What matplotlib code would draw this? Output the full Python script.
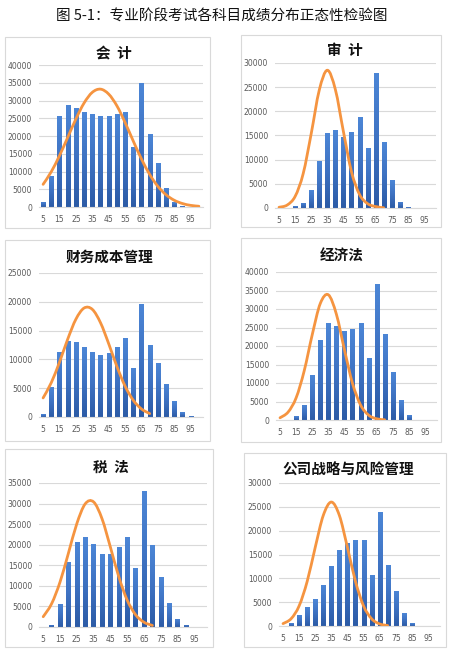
import numpy as np
import matplotlib
matplotlib.use("Agg")
import matplotlib.pyplot as plt
from matplotlib.path import Path
from matplotlib.patches import PathPatch, Rectangle
from matplotlib.colors import LinearSegmentedColormap

plt.rcParams["font.family"] = ["Noto Sans CJK SC", "DejaVu Sans"]

W, H = 452, 652

############### data ###############
categories = [5, 10, 15, 20, 25, 30, 35, 40, 45, 50,
              55, 60, 65, 70, 75, 80, 85, 90, 95, 100]
tick_labels = ["5", "15", "25", "35", "45", "55", "65", "75", "85", "95"]

titles = ["会  计", "审  计", "财务成本管理", "经济法", "税  法", "公司战略与风险管理"]

kuaiji_bars = [1500, 8800, 25700, 28800, 27900, 26700, 26100, 25700, 25700, 26100,
               26700, 16800, 34900, 20500, 12500, 5400, 1300, 200, 50, 0]
kuaiji_curve = [6380, 9950, 14470, 19600, 24800, 29300, 32300, 33200, 31800, 28500,
                23800, 18550, 13500, 9160, 5800, 3430, 1890, 970, 460, 210]

shenji_bars = [0, 50, 350, 1100, 3700, 9700, 15500, 16100, 14750, 15800,
               18800, 12500, 27900, 13650, 5750, 1300, 150, 0, 0, 0]
shenji_curve = [150, 600, 2400, 7100, 15400, 24400, 28500, 24500, 15800, 7500,
                2800, 900, 300, 50]

caiwu_bars = [450, 5200, 11300, 13200, 13000, 12200, 11350, 10800, 11150, 12150,
              13650, 8500, 19700, 12450, 9350, 5800, 2750, 800, 150, 0]
caiwu_curve = [3310, 5970, 9530, 13510, 16980, 18920, 18690, 16370, 12720, 8770,
               5350, 2900, 1390, 590]

jingji_bars = [0, 100, 1000, 4150, 12200, 21600, 26200, 25300, 24100, 24550,
               26200, 16700, 36750, 23300, 13000, 5300, 1250, 100, 0, 0]
jingji_curve = [600, 2130, 5990, 13260, 23040, 31480, 33840, 28600, 19000, 9930,
                4080, 1320, 335, 67]

shuifa_bars = [0, 500, 5600, 15900, 20700, 21850, 20150, 17700, 17800, 19350,
               21850, 14400, 33000, 19900, 12100, 5770, 2000, 500, 0, 0]
shuifa_curve = [2500, 5650, 10910, 17920, 25100, 29930, 30400, 26330, 19410, 12200,
                6530, 2980, 1160, 380]

gongsi_bars = [0, 550, 2250, 3900, 5650, 8600, 12500, 15850, 17500, 18000,
               17950, 10800, 23850, 12750, 7400, 2700, 600, 100, 50, 0]
gongsi_curve = [500, 1520, 4220, 9350, 16500, 23200, 26000, 23200, 16500, 9350,
                4220, 1520, 435, 100]

y_tops = [40000, 30000, 25000, 40000, 35000, 30000]

bars_all = [kuaiji_bars, shenji_bars, caiwu_bars, jingji_bars, shuifa_bars, gongsi_bars]
curves_all = [kuaiji_curve, shenji_curve, caiwu_curve, jingji_curve, shuifa_curve, gongsi_curve]

############### layout in pixels ###############
# chart area boxes (x0, y0, x1, y1), plot areas (left, top, right, bottom), title centre
boxes = [(5, 37, 210, 228), (241, 35, 441, 227),
         (5, 240, 210, 441), (241, 238, 441, 442),
         (5, 449, 213, 647), (244, 453, 446, 647)]
plots = [(39, 65, 203, 207), (275, 63, 436, 208),
         (39, 273, 203, 417), (276, 272, 437, 420),
         (39, 483, 207, 627), (279, 483, 440, 626)]
title_pos = [(114, 53), (345, 50), (110, 257), (342, 255), (111, 467), (348, 470)]

ORANGE = "#F59440"
GRID = "#D9D9D9"
TEXT = "#595959"
bar_cmap = LinearSegmentedColormap.from_list("bar", ["#2C5BA6", "#3E72C2", "#4C86D6"])


def smooth_path(xs, ys):
    # catmull-rom through the points, drawn as cubic bezier segments
    pts = np.column_stack([xs, ys]).astype(float)
    n = len(pts)
    verts = [pts[0]]
    codes = [Path.MOVETO]
    for i in range(n - 1):
        p0 = pts[max(i - 1, 0)]
        p1 = pts[i]
        p2 = pts[i + 1]
        p3 = pts[min(i + 2, n - 1)]
        c1 = p1 + (p2 - p0) / 6.0
        c2 = p2 - (p3 - p1) / 6.0
        verts += [c1, c2, p2]
        codes += [Path.CURVE4] * 3
    return Path(verts, codes)


fig = plt.figure(figsize=(W / 100, H / 100), dpi=100)
fig.text(222 / W, 1 - 16 / H, "图 5-1：专业阶段考试各科目成绩分布正态性检验图",
         ha="center", va="center", fontsize=10.5, color="#111111")

grad = np.linspace(0, 1, 64).reshape(-1, 1)

for k in range(6):
    bx0, by0, bx1, by1 = boxes[k]
    fig.patches.append(Rectangle((bx0 / W, 1 - by1 / H), (bx1 - bx0) / W, (by1 - by0) / H,
                                 transform=fig.transFigure, fill=False,
                                 edgecolor=GRID, linewidth=0.8))

    l, t, r, b = plots[k]
    ax = fig.add_axes([l / W, 1 - b / H, (r - l) / W, (b - t) / H])
    idx = np.arange(len(categories))
    bars = ax.bar(idx, bars_all[k], width=0.5, color="#3E72C2", zorder=2)
    # vertical shading on every bar, darker at the base
    for p in bars:
        h = p.get_height()
        if h <= 0:
            continue
        x0 = p.get_x()
        im = ax.imshow(grad, cmap=bar_cmap, origin="lower", aspect="auto",
                       extent=(x0, x0 + p.get_width(), 0, h), zorder=2.1)
        im.set_clip_path(p)

    cv = curves_all[k]
    ax.add_patch(PathPatch(smooth_path(idx[:len(cv)], cv), fill=False,
                           edgecolor=ORANGE, linewidth=2.0, capstyle="round", zorder=3))

    ax.set_xlim(-0.5, len(categories) - 0.5)
    ax.set_ylim(0, y_tops[k])
    ax.set_yticks(np.arange(0, y_tops[k] + 1, 5000))
    ax.set_xticks(idx[::2])
    ax.set_xticklabels(tick_labels)
    ax.yaxis.grid(True, color=GRID, linewidth=0.8, zorder=0)
    ax.set_axisbelow(True)
    for s in ["top", "right", "left"]:
        ax.spines[s].set_visible(False)
    ax.spines["bottom"].set_color(GRID)
    ax.spines["bottom"].set_linewidth(0.8)
    ax.tick_params(axis="both", length=0, labelsize=5.5, labelcolor=TEXT)
    ax.tick_params(axis="y", pad=5)
    ax.tick_params(axis="x", pad=6)
    for lab in ax.get_xticklabels() + ax.get_yticklabels():
        lab.set_family("DejaVu Sans")

    tx, ty = title_pos[k]
    fig.text(tx / W, 1 - ty / H, titles[k], ha="center", va="center",
             fontsize=10.5, fontweight="bold", color="#111111")

fig.savefig("out.png", dpi=100)
